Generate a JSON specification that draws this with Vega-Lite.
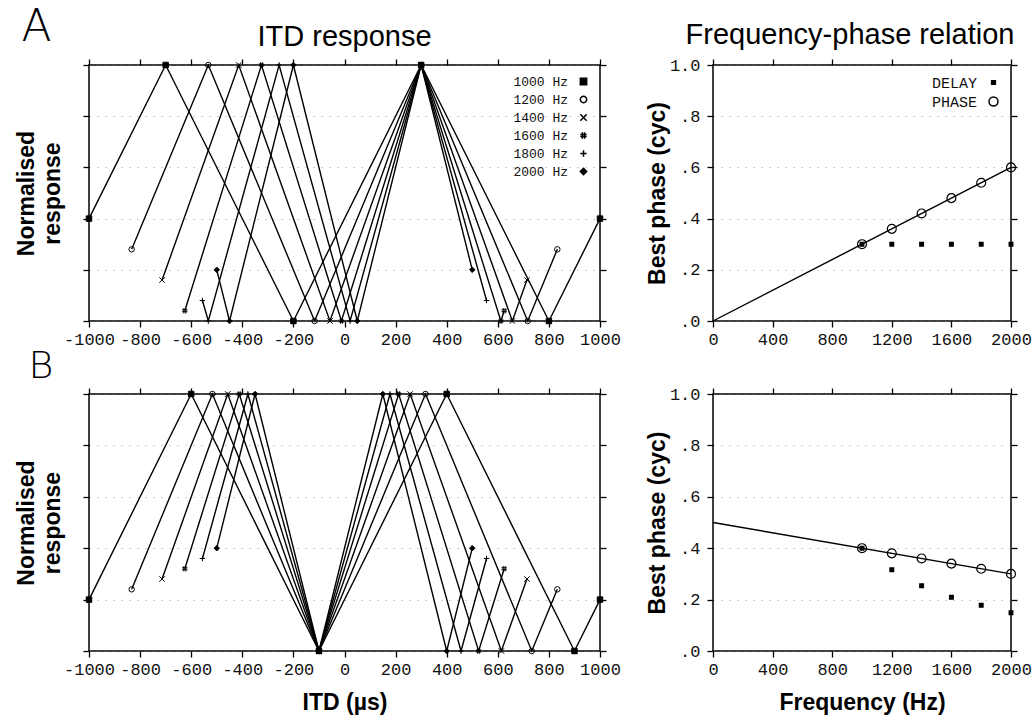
{
  "$schema": "https://vega.github.io/schema/vega-lite/v6.json",
  "padding": {"left": 14, "top": 6, "right": 2, "bottom": 2},
  "background": "white",
  "config": {
    "view": {"stroke": "black", "strokeWidth": 1.5},
    "axis": {
      "labelFont": "Liberation Mono", "labelFontSize": 17, "labelColor": "#111",
      "titleFont": "Liberation Sans", "titleFontSize": 23, "titleFontWeight": "bold", "titleColor": "black",
      "tickColor": "black", "tickSize": 6, "tickWidth": 1.3, "domain": false, "grid": false,
      "labelPadding": 4, "labelOverlap": false, "labelFlush": false,
      "gridDash": [1, 7], "gridColor": "#888", "gridOpacity": 0.8, "gridWidth": 1
    }
  },
  "datasets": {
    "itdA": [
      {"f": "1000 Hz", "itd": -1000, "r": 0.4}, {"f": "1000 Hz", "itd": -700, "r": 1}, {"f": "1000 Hz", "itd": -200, "r": 0}, {"f": "1000 Hz", "itd": 300, "r": 1}, {"f": "1000 Hz", "itd": 800, "r": 0}, {"f": "1000 Hz", "itd": 1000, "r": 0.4},
      {"f": "1200 Hz", "itd": -833, "r": 0.28}, {"f": "1200 Hz", "itd": -533, "r": 1}, {"f": "1200 Hz", "itd": -117, "r": 0}, {"f": "1200 Hz", "itd": 300, "r": 1}, {"f": "1200 Hz", "itd": 717, "r": 0}, {"f": "1200 Hz", "itd": 833, "r": 0.28},
      {"f": "1400 Hz", "itd": -714, "r": 0.16}, {"f": "1400 Hz", "itd": -414, "r": 1}, {"f": "1400 Hz", "itd": -57, "r": 0}, {"f": "1400 Hz", "itd": 300, "r": 1}, {"f": "1400 Hz", "itd": 657, "r": 0}, {"f": "1400 Hz", "itd": 714, "r": 0.16},
      {"f": "1600 Hz", "itd": -625, "r": 0.04}, {"f": "1600 Hz", "itd": -325, "r": 1}, {"f": "1600 Hz", "itd": -12, "r": 0}, {"f": "1600 Hz", "itd": 300, "r": 1}, {"f": "1600 Hz", "itd": 612, "r": 0}, {"f": "1600 Hz", "itd": 625, "r": 0.04},
      {"f": "1800 Hz", "itd": -556, "r": 0.08}, {"f": "1800 Hz", "itd": -533, "r": 0}, {"f": "1800 Hz", "itd": -256, "r": 1}, {"f": "1800 Hz", "itd": 22, "r": 0}, {"f": "1800 Hz", "itd": 300, "r": 1}, {"f": "1800 Hz", "itd": 556, "r": 0.08},
      {"f": "2000 Hz", "itd": -500, "r": 0.2}, {"f": "2000 Hz", "itd": -450, "r": 0}, {"f": "2000 Hz", "itd": -200, "r": 1}, {"f": "2000 Hz", "itd": 50, "r": 0}, {"f": "2000 Hz", "itd": 300, "r": 1}, {"f": "2000 Hz", "itd": 500, "r": 0.2}
    ],
    "itdB": [
      {"f": "1000 Hz", "itd": -1000, "r": 0.2}, {"f": "1000 Hz", "itd": -600, "r": 1}, {"f": "1000 Hz", "itd": -100, "r": 0}, {"f": "1000 Hz", "itd": 400, "r": 1}, {"f": "1000 Hz", "itd": 900, "r": 0}, {"f": "1000 Hz", "itd": 1000, "r": 0.2},
      {"f": "1200 Hz", "itd": -833, "r": 0.24}, {"f": "1200 Hz", "itd": -517, "r": 1}, {"f": "1200 Hz", "itd": -100, "r": 0}, {"f": "1200 Hz", "itd": 317, "r": 1}, {"f": "1200 Hz", "itd": 733, "r": 0}, {"f": "1200 Hz", "itd": 833, "r": 0.24},
      {"f": "1400 Hz", "itd": -714, "r": 0.28}, {"f": "1400 Hz", "itd": -457, "r": 1}, {"f": "1400 Hz", "itd": -100, "r": 0}, {"f": "1400 Hz", "itd": 257, "r": 1}, {"f": "1400 Hz", "itd": 614, "r": 0}, {"f": "1400 Hz", "itd": 714, "r": 0.28},
      {"f": "1600 Hz", "itd": -625, "r": 0.32}, {"f": "1600 Hz", "itd": -412, "r": 1}, {"f": "1600 Hz", "itd": -100, "r": 0}, {"f": "1600 Hz", "itd": 212, "r": 1}, {"f": "1600 Hz", "itd": 525, "r": 0}, {"f": "1600 Hz", "itd": 625, "r": 0.32},
      {"f": "1800 Hz", "itd": -556, "r": 0.36}, {"f": "1800 Hz", "itd": -378, "r": 1}, {"f": "1800 Hz", "itd": -100, "r": 0}, {"f": "1800 Hz", "itd": 178, "r": 1}, {"f": "1800 Hz", "itd": 456, "r": 0}, {"f": "1800 Hz", "itd": 556, "r": 0.36},
      {"f": "2000 Hz", "itd": -500, "r": 0.4}, {"f": "2000 Hz", "itd": -350, "r": 1}, {"f": "2000 Hz", "itd": -100, "r": 0}, {"f": "2000 Hz", "itd": 150, "r": 1}, {"f": "2000 Hz", "itd": 400, "r": 0}, {"f": "2000 Hz", "itd": 500, "r": 0.4}
    ],
    "phaseA": [
      {"type": "DELAY", "freq": 1000, "phase": 0.30}, {"type": "DELAY", "freq": 1200, "phase": 0.30}, {"type": "DELAY", "freq": 1400, "phase": 0.30},
      {"type": "DELAY", "freq": 1600, "phase": 0.30}, {"type": "DELAY", "freq": 1800, "phase": 0.30}, {"type": "DELAY", "freq": 2000, "phase": 0.30},
      {"type": "PHASE", "freq": 1000, "phase": 0.30}, {"type": "PHASE", "freq": 1200, "phase": 0.36}, {"type": "PHASE", "freq": 1400, "phase": 0.42},
      {"type": "PHASE", "freq": 1600, "phase": 0.48}, {"type": "PHASE", "freq": 1800, "phase": 0.54}, {"type": "PHASE", "freq": 2000, "phase": 0.60}
    ],
    "phaseB": [
      {"type": "DELAY", "freq": 1000, "phase": 0.40}, {"type": "DELAY", "freq": 1200, "phase": 0.316}, {"type": "DELAY", "freq": 1400, "phase": 0.254},
      {"type": "DELAY", "freq": 1600, "phase": 0.209}, {"type": "DELAY", "freq": 1800, "phase": 0.178}, {"type": "DELAY", "freq": 2000, "phase": 0.149},
      {"type": "PHASE", "freq": 1000, "phase": 0.40}, {"type": "PHASE", "freq": 1200, "phase": 0.38}, {"type": "PHASE", "freq": 1400, "phase": 0.36},
      {"type": "PHASE", "freq": 1600, "phase": 0.34}, {"type": "PHASE", "freq": 1800, "phase": 0.32}, {"type": "PHASE", "freq": 2000, "phase": 0.30}
    ],
    "fitA": [{"freq": 0, "phase": 0}, {"freq": 2000, "phase": 0.6}],
    "fitB": [{"freq": 0, "phase": 0.5}, {"freq": 2000, "phase": 0.3}]
  },
  "resolve": {"scale": {"shape": "independent", "fill": "independent", "size": "independent"}, "legend": {"shape": "independent", "fill": "independent", "size": "independent"}},
  "spacing": 0,
  "vconcat": [
    {
      "title": {"text": "A", "anchor": "start", "frame": "bounds", "fontSize": 44, "font": "DejaVu Sans", "fontWeight": 200, "color": "black", "offset": -30, "dx": 7},
      "spacing": 23,
      "resolve": {"scale": {"shape": "independent", "fill": "independent", "size": "independent"}, "legend": {"shape": "independent", "fill": "independent", "size": "independent"}},
      "hconcat": [
        {
          "width": 511, "height": 256,
          "title": {"text": "ITD response", "fontSize": 29, "font": "Liberation Sans", "fontWeight": "normal", "color": "black", "offset": 6, "anchor": "middle", "frame": "group"},
          "data": {"name": "itdA"},
          "layer": [
            {
              "mark": {"type": "line", "color": "black", "strokeWidth": 1.4},
              "encoding": {
                "x": {"field": "itd", "type": "quantitative", "scale": {"domain": [-1000, 1000], "nice": false, "zero": false},
                      "axis": {"orient": "bottom", "values": [-1000, -800, -600, -400, -200, 0, 200, 400, 600, 800, 1000], "labelExpr": "'' + datum.value", "title": null}},
                "y": {"field": "r", "type": "quantitative", "scale": {"domain": [0, 1], "nice": false},
                      "axis": {"orient": "left", "values": [0, 0.2, 0.4, 0.6, 0.8, 1], "labels": false, "title": ["Normalised", "response"], "titleLineHeight": 26, "titlePadding": 18, "grid": true}},
                "detail": {"field": "f", "type": "nominal"}
              }
            },
            {
              "mark": {"type": "point", "stroke": "black", "strokeWidth": 1, "size": 30, "opacity": 1},
              "encoding": {
                "x": {"field": "itd", "type": "quantitative", "axis": null},
                "y": {"field": "r", "type": "quantitative", "axis": null},
                "shape": {"field": "f", "type": "nominal",
                  "scale": {"domain": ["1000 Hz", "1200 Hz", "1400 Hz", "1600 Hz", "1800 Hz", "2000 Hz"],
                            "range": ["square", "circle", "M-1,-1L1,1M-1,1L1,-1", "M-0.35,-1L-0.35,1M0.35,-1L0.35,1M-1,-0.35L1,-0.35M-1,0.35L1,0.35", "M0,-1L0,1M-1,0L1,0", "diamond"]},
                  "legend": {"orient": "top-right", "title": null, "labelFont": "Liberation Mono", "labelFontSize": 13, "labelColor": "#111", "symbolSize": 40, "rowPadding": 4, "offset": 10,
                    "labelAlign": "right", "labelOffset": -22,
                    "encode": {"symbols": {"update": {"stroke": {"value": "black"}, "strokeWidth": {"value": 1}, "opacity": {"value": 1}}}}}},
                "fill": {"field": "f", "type": "nominal",
                  "scale": {"domain": ["1000 Hz", "1200 Hz", "1400 Hz", "1600 Hz", "1800 Hz", "2000 Hz"],
                            "range": ["black", "transparent", "transparent", "transparent", "transparent", "black"]}}
              }
            },
            {
              "mark": {"type": "point", "opacity": 0},
              "encoding": {
                "x": {"field": "itd", "type": "quantitative", "axis": {"orient": "top", "values": [-1000, -800, -600, -400, -200, 0, 200, 400, 600, 800, 1000], "labels": false, "title": null}},
                "y": {"field": "r", "type": "quantitative", "axis": {"orient": "right", "values": [0, 0.2, 0.4, 0.6, 0.8, 1], "labels": false, "title": null}}
              }
            }
          ],
          "resolve": {"axis": {"x": "independent", "y": "independent"}}
        },
        {
          "width": 298, "height": 256,
          "title": {"text": "Frequency-phase relation", "fontSize": 29, "font": "Liberation Sans", "fontWeight": "normal", "color": "black", "offset": 6, "anchor": "middle", "frame": "group", "dx": -12},
          "layer": [
            {
              "data": {"name": "fitA"},
              "mark": {"type": "line", "color": "black", "strokeWidth": 1.4},
              "encoding": {
                "x": {"field": "freq", "type": "quantitative", "scale": {"domain": [0, 2000], "nice": false},
                      "axis": {"orient": "bottom", "values": [0, 400, 800, 1200, 1600, 2000], "labelExpr": "'' + datum.value", "title": null}},
                "y": {"field": "phase", "type": "quantitative", "scale": {"domain": [0, 1], "nice": false},
                      "axis": {"orient": "left", "values": [0, 0.2, 0.4, 0.6, 0.8, 1], "labelExpr": "datum.value >= 1 ? '1.0' : '.' + round(datum.value * 10)", "labelPadding": 7, "title": "Best phase (cyc)", "titlePadding": 0, "grid": true}}
              }
            },
            {
              "data": {"name": "phaseA"},
              "mark": {"type": "point", "stroke": "black", "strokeWidth": 1.2, "opacity": 1},
              "encoding": {
                "x": {"field": "freq", "type": "quantitative", "axis": null},
                "y": {"field": "phase", "type": "quantitative", "axis": null},
                "shape": {"field": "type", "type": "nominal", "scale": {"domain": ["DELAY", "PHASE"], "range": ["square", "circle"]},
                  "legend": {"orient": "top-right", "title": null, "labelFont": "Liberation Mono", "labelFontSize": 15, "labelColor": "#111", "rowPadding": 3, "offset": 10,
                    "labelAlign": "right", "labelOffset": -24,
                    "encode": {"symbols": {"update": {"stroke": {"value": "black"}, "strokeWidth": {"value": 1.2}, "opacity": {"value": 1}}}}}},
                "fill": {"field": "type", "type": "nominal", "scale": {"domain": ["DELAY", "PHASE"], "range": ["black", "transparent"]}},
                "size": {"field": "type", "type": "nominal", "scale": {"domain": ["DELAY", "PHASE"], "range": [14, 80]}}
              }
            },
            {
              "data": {"name": "phaseA"},
              "mark": {"type": "point", "opacity": 0},
              "encoding": {
                "x": {"field": "freq", "type": "quantitative", "axis": {"orient": "top", "values": [0, 400, 800, 1200, 1600, 2000], "labels": false, "title": null}},
                "y": {"field": "phase", "type": "quantitative", "axis": {"orient": "right", "values": [0, 0.2, 0.4, 0.6, 0.8, 1], "labels": false, "title": null}}
              }
            }
          ],
          "resolve": {"axis": {"x": "independent", "y": "independent"}}
        }
      ]
    },
    {
      "title": {"text": "B", "anchor": "start", "frame": "bounds", "fontSize": 38, "font": "DejaVu Sans", "fontWeight": 200, "color": "black", "offset": -2, "dx": 14},
      "spacing": 23,
      "resolve": {"scale": {"shape": "independent", "fill": "independent", "size": "independent"}, "legend": {"shape": "independent", "fill": "independent", "size": "independent"}},
      "hconcat": [
        {
          "width": 511, "height": 257,
          "data": {"name": "itdB"},
          "layer": [
            {
              "mark": {"type": "line", "color": "black", "strokeWidth": 1.4},
              "encoding": {
                "x": {"field": "itd", "type": "quantitative", "scale": {"domain": [-1000, 1000], "nice": false, "zero": false},
                      "axis": {"orient": "bottom", "values": [-1000, -800, -600, -400, -200, 0, 200, 400, 600, 800, 1000], "labelExpr": "'' + datum.value", "title": "ITD (µs)", "titlePadding": 14}},
                "y": {"field": "r", "type": "quantitative", "scale": {"domain": [0, 1], "nice": false},
                      "axis": {"orient": "left", "values": [0, 0.2, 0.4, 0.6, 0.8, 1], "labels": false, "title": ["Normalised", "response"], "titleLineHeight": 26, "titlePadding": 18, "grid": true}},
                "detail": {"field": "f", "type": "nominal"}
              }
            },
            {
              "mark": {"type": "point", "stroke": "black", "strokeWidth": 1, "size": 30, "opacity": 1},
              "encoding": {
                "x": {"field": "itd", "type": "quantitative", "axis": null},
                "y": {"field": "r", "type": "quantitative", "axis": null},
                "shape": {"field": "f", "type": "nominal",
                  "scale": {"domain": ["1000 Hz", "1200 Hz", "1400 Hz", "1600 Hz", "1800 Hz", "2000 Hz"],
                            "range": ["square", "circle", "M-1,-1L1,1M-1,1L1,-1", "M-0.35,-1L-0.35,1M0.35,-1L0.35,1M-1,-0.35L1,-0.35M-1,0.35L1,0.35", "M0,-1L0,1M-1,0L1,0", "diamond"]},
                  "legend": null},
                "fill": {"field": "f", "type": "nominal",
                  "scale": {"domain": ["1000 Hz", "1200 Hz", "1400 Hz", "1600 Hz", "1800 Hz", "2000 Hz"],
                            "range": ["black", "transparent", "transparent", "transparent", "transparent", "black"]},
                  "legend": null}
              }
            },
            {
              "mark": {"type": "point", "opacity": 0},
              "encoding": {
                "x": {"field": "itd", "type": "quantitative", "axis": {"orient": "top", "values": [-1000, -800, -600, -400, -200, 0, 200, 400, 600, 800, 1000], "labels": false, "title": null}},
                "y": {"field": "r", "type": "quantitative", "axis": {"orient": "right", "values": [0, 0.2, 0.4, 0.6, 0.8, 1], "labels": false, "title": null}}
              }
            }
          ],
          "resolve": {"axis": {"x": "independent", "y": "independent"}}
        },
        {
          "width": 298, "height": 257,
          "layer": [
            {
              "data": {"name": "fitB"},
              "mark": {"type": "line", "color": "black", "strokeWidth": 1.4},
              "encoding": {
                "x": {"field": "freq", "type": "quantitative", "scale": {"domain": [0, 2000], "nice": false},
                      "axis": {"orient": "bottom", "values": [0, 400, 800, 1200, 1600, 2000], "labelExpr": "'' + datum.value", "title": "Frequency (Hz)", "titlePadding": 14}},
                "y": {"field": "phase", "type": "quantitative", "scale": {"domain": [0, 1], "nice": false},
                      "axis": {"orient": "left", "values": [0, 0.2, 0.4, 0.6, 0.8, 1], "labelExpr": "datum.value >= 1 ? '1.0' : '.' + round(datum.value * 10)", "labelPadding": 7, "title": "Best phase (cyc)", "titlePadding": 0, "grid": true}}
              }
            },
            {
              "data": {"name": "phaseB"},
              "mark": {"type": "point", "stroke": "black", "strokeWidth": 1.2, "opacity": 1},
              "encoding": {
                "x": {"field": "freq", "type": "quantitative", "axis": null},
                "y": {"field": "phase", "type": "quantitative", "axis": null},
                "shape": {"field": "type", "type": "nominal", "scale": {"domain": ["DELAY", "PHASE"], "range": ["square", "circle"]}, "legend": null},
                "fill": {"field": "type", "type": "nominal", "scale": {"domain": ["DELAY", "PHASE"], "range": ["black", "transparent"]}, "legend": null},
                "size": {"field": "type", "type": "nominal", "scale": {"domain": ["DELAY", "PHASE"], "range": [14, 80]}, "legend": null}
              }
            },
            {
              "data": {"name": "phaseB"},
              "mark": {"type": "point", "opacity": 0},
              "encoding": {
                "x": {"field": "freq", "type": "quantitative", "axis": {"orient": "top", "values": [0, 400, 800, 1200, 1600, 2000], "labels": false, "title": null}},
                "y": {"field": "phase", "type": "quantitative", "axis": {"orient": "right", "values": [0, 0.2, 0.4, 0.6, 0.8, 1], "labels": false, "title": null}}
              }
            }
          ],
          "resolve": {"axis": {"x": "independent", "y": "independent"}}
        }
      ]
    }
  ]
}
